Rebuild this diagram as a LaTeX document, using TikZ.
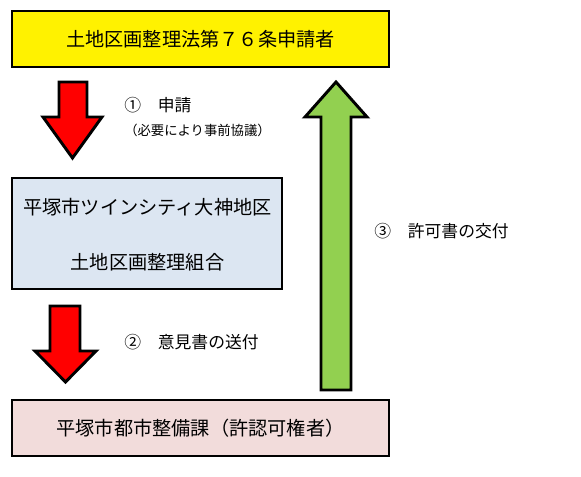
\documentclass[tikz,border=0pt]{standalone}
\usepackage{fontspec}
\setmainfont{Noto Sans CJK JP}
\begin{document}
\begin{tikzpicture}[x=0.75pt,y=-0.75pt,
  box/.style={draw=black,line width=0.8pt,inner sep=0pt,font=\fontsize{14.4pt}{20pt}\selectfont},
  boxtxt/.style={inner sep=0pt,font=\fontsize{14.4pt}{20pt}\selectfont},
  lbl/.style={anchor=west,inner sep=0pt,font=\fontsize{12.6pt}{15pt}\selectfont},
  blk/.style={draw=black,line width=2.2pt,miter limit=10}]
\useasboundingbox (0,0) rectangle (581,477);
\definecolor{boxblue}{HTML}{DCE6F2}
\definecolor{boxpink}{HTML}{F2DCDB}
\definecolor{arrgreen}{HTML}{92D050}
% boxes
\node[box,fill=yellow,minimum width=377*0.75pt,minimum height=56*0.75pt] (top) at (200.5,39) {土地区画整理法第７６条申請者};
\node[box,fill=boxblue,minimum width=270*0.75pt,minimum height=111*0.75pt,align=center] (mid) at (147,233.5) {};
\node[boxtxt] (midA) at (147.5,207) {平塚市ツインシティ大神地区};
\node[boxtxt] (midB) at (147.5,262) {土地区画整理組合};
\node[box,fill=boxpink,minimum width=377*0.75pt,minimum height=56*0.75pt] (bot) at (200.5,428) {平塚市都市整備課（許認可権者）};
% block arrows
\draw[blk,fill=red] (59,82) -- (87,82) -- (87,117) -- (102,117) -- (72.5,158) -- (43,117) -- (59,117) -- cycle;
\draw[blk,fill=red] (50,306) -- (80,306) -- (80,351) -- (96,351) -- (65.5,382) -- (35,351) -- (50,351) -- cycle;
\draw[blk,fill=arrgreen] (336,82) -- (367,117) -- (351,117) -- (351,390) -- (321,390) -- (321,117) -- (305,117) -- cycle;
% labels
\node[lbl] (l1) at (124,105) {①　申請};
\node[lbl,font=\fontsize{10pt}{12pt}\selectfont] (l1b) at (124,130) {（必要により事前協議）};
\node[lbl] (l2) at (124,342) {②　意見書の送付};
\node[lbl] (l3) at (374,231) {③　許可書の交付};
\end{tikzpicture}
\end{document}
